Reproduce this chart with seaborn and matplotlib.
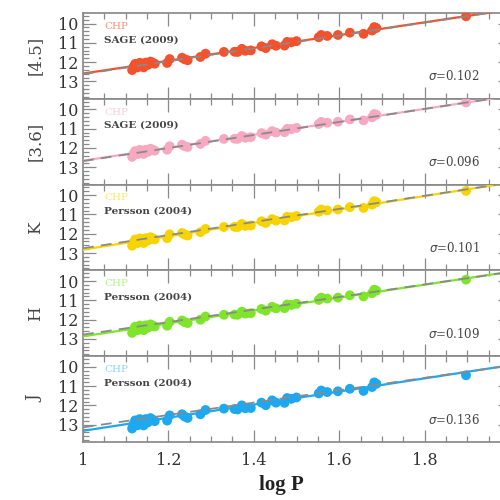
import numpy as np
import pandas as pd
import matplotlib
matplotlib.use("Agg")
import matplotlib.pyplot as plt
from matplotlib.ticker import MultipleLocator, FuncFormatter
import seaborn as sns

# ---------------- data ----------------
log_p = [1.115, 1.118, 1.122, 1.128, 1.133, 1.138, 1.142, 1.147, 1.152, 1.158,
         1.163, 1.168, 1.197, 1.203, 1.232, 1.238, 1.245, 1.275, 1.287, 1.330,
         1.355, 1.362, 1.372, 1.380, 1.393, 1.418, 1.428, 1.443, 1.452, 1.472,
         1.478, 1.488, 1.500, 1.552, 1.558, 1.572, 1.597, 1.625, 1.657, 1.677,
         1.682, 1.687, 1.897]

mag_45 = [12.41, 12.25, 12.09, 12.27, 12.03, 12.13, 12.27, 12.02, 12.14, 11.97,
          12.03, 12.08, 12.04, 11.84, 11.77, 11.85, 11.90, 11.73, 11.56, 11.47,
          11.46, 11.47, 11.31, 11.41, 11.39, 11.18, 11.27, 11.07, 11.15, 11.14,
          10.95, 10.97, 10.91, 10.71, 10.59, 10.64, 10.59, 10.47, 10.53, 10.36,
          10.18, 10.23, 9.62]
mag_36 = [12.46, 12.31, 12.16, 12.32, 12.10, 12.19, 12.31, 12.09, 12.20, 12.04,
          12.09, 12.14, 12.09, 11.91, 11.83, 11.91, 11.95, 11.79, 11.63, 11.53,
          11.52, 11.53, 11.38, 11.47, 11.44, 11.23, 11.31, 11.13, 11.20, 11.18,
          11.01, 11.02, 10.96, 10.76, 10.65, 10.69, 10.64, 10.52, 10.57, 10.41,
          10.24, 10.28, 9.64]
mag_k = [12.62, 12.46, 12.30, 12.48, 12.24, 12.34, 12.48, 12.23, 12.35, 12.18,
         12.24, 12.29, 12.23, 12.03, 11.96, 12.04, 12.09, 11.92, 11.75, 11.65,
         11.64, 11.65, 11.49, 11.59, 11.57, 11.35, 11.44, 11.24, 11.32, 11.31,
         11.12, 11.14, 11.08, 10.86, 10.74, 10.79, 10.74, 10.62, 10.66, 10.49,
         10.31, 10.36, 9.78]
mag_h = [12.69, 12.53, 12.37, 12.55, 12.31, 12.41, 12.55, 12.30, 12.42, 12.25,
         12.31, 12.36, 12.32, 12.12, 12.05, 12.13, 12.18, 12.01, 11.84, 11.75,
         11.74, 11.75, 11.59, 11.69, 11.67, 11.45, 11.54, 11.34, 11.42, 11.41,
         11.22, 11.24, 11.18, 10.98, 10.86, 10.91, 10.86, 10.74, 10.80, 10.63,
         10.45, 10.50, 9.93]
mag_j = [13.20, 12.99, 12.78, 13.03, 12.71, 12.85, 13.04, 12.71, 12.88, 12.66,
         12.74, 12.82, 12.79, 12.52, 12.46, 12.58, 12.65, 12.46, 12.24, 12.17,
         12.19, 12.21, 12.00, 12.15, 12.14, 11.86, 11.99, 11.74, 11.86, 11.87,
         11.62, 11.66, 11.59, 11.38, 11.23, 11.31, 11.27, 11.14, 11.25, 11.05,
         10.81, 10.88, 10.44]

bands = ["[4.5]", "[3.6]", "K", "H", "J"]
references = ["SAGE (2009)", "SAGE (2009)", "Persson (2004)", "Persson (2004)", "Persson (2004)"]
sigmas = ["0.102", "0.096", "0.101", "0.109", "0.136"]
chp_zero = [12.59, 12.66, 12.82, 12.87, 13.32]     # magnitude at log P = 1
chp_slope = [-3.32, -3.36, -3.47, -3.35, -3.40]
lit_zero = [12.62, 12.68, 12.75, 12.78, 13.14]
lit_slope = [-3.34, -3.38, -3.40, -3.25, -3.21]
mags = [mag_45, mag_36, mag_k, mag_h, mag_j]

point_colors = ["#f4512c", "#f7a9c2", "#f7d400", "#7fe52a", "#1ea8ef"]
label_colors = ["#f7937a", "#fbd0dd", "#fbe870", "#b6f28a", "#8fd4f7"]

# ---------------- style ----------------
sns.set_theme(style="ticks")
plt.rcParams["font.family"] = ["DejaVu Serif"]
plt.rcParams["axes.edgecolor"] = "#8a8a8a"
plt.rcParams["xtick.color"] = "#8a8a8a"
plt.rcParams["ytick.color"] = "#8a8a8a"
plt.rcParams["xtick.labelcolor"] = "#333333"
plt.rcParams["ytick.labelcolor"] = "#333333"


def xfmt(v, pos):
    if v > 1.9:
        return ""
    return "%g" % round(v, 2)


fig = plt.figure(figsize=(5, 5), dpi=100)
gs = fig.add_gridspec(5, 1, left=0.166, right=1.02, top=0.974, bottom=0.116, hspace=0)

line_x = np.array([1.0, 2.0])
for i in range(5):
    ax = fig.add_subplot(gs[i, 0])
    df = pd.DataFrame({"logP": log_p, "mag": mags[i]})
    fit = pd.DataFrame({"logP": line_x,
                        "chp": chp_zero[i] + chp_slope[i] * (line_x - 1.0),
                        "lit": lit_zero[i] + lit_slope[i] * (line_x - 1.0)})
    sns.scatterplot(data=df, x="logP", y="mag", ax=ax, color=point_colors[i],
                    s=50, edgecolor="none", zorder=3, legend=False)
    sns.lineplot(data=fit, x="logP", y="chp", ax=ax, color=point_colors[i],
                 linewidth=1.6, zorder=4)
    sns.lineplot(data=fit, x="logP", y="lit", ax=ax, color="#8a8a8a",
                 linewidth=1.3, linestyle=(0, (6, 4)), zorder=5)

    ax.set_xlim(1.0, 2.0)
    ax.set_ylim(13.9, 9.45)
    ax.xaxis.set_major_locator(MultipleLocator(0.2))
    ax.xaxis.set_minor_locator(MultipleLocator(0.05))
    ax.xaxis.set_major_formatter(FuncFormatter(xfmt))
    ax.yaxis.set_major_locator(MultipleLocator(1))
    ax.yaxis.set_minor_locator(MultipleLocator(0.2))
    ax.tick_params(which="both", direction="in", top=True, bottom=True,
                   left=True, right=True, width=0.9)
    ax.tick_params(which="major", length=9, labelsize=11.5)
    ax.tick_params(which="minor", length=4.5)
    ax.tick_params(axis="y", which="major", pad=3)
    ax.set_xlabel("")
    ax.set_ylabel("")
    if i < 4:
        ax.tick_params(axis="x", labelbottom=False)
    else:
        ax.tick_params(axis="x", pad=7)

    ax.text(-0.112, 0.5, bands[i], transform=ax.transAxes, rotation=90,
            ha="center", va="center", fontsize=12, color="#444444")
    ax.text(0.05, 0.845, "CHP", transform=ax.transAxes, ha="left", va="center",
            fontsize=7.5, color=label_colors[i])
    ax.text(0.05, 0.69, references[i], transform=ax.transAxes, ha="left",
            va="center", fontsize=7.5, color="#444444", fontweight="bold")
    ax.text(0.93, 0.26, r"$\sigma$=" + sigmas[i], transform=ax.transAxes,
            ha="right", va="center", fontsize=8.5, color="#444444")

fig.text(0.563, 0.03, "log P", ha="center", va="center", fontsize=15,
         fontweight="bold", family=["Liberation Serif", "DejaVu Serif"],
         color="#222222")

fig.savefig("out.png", dpi=100)
